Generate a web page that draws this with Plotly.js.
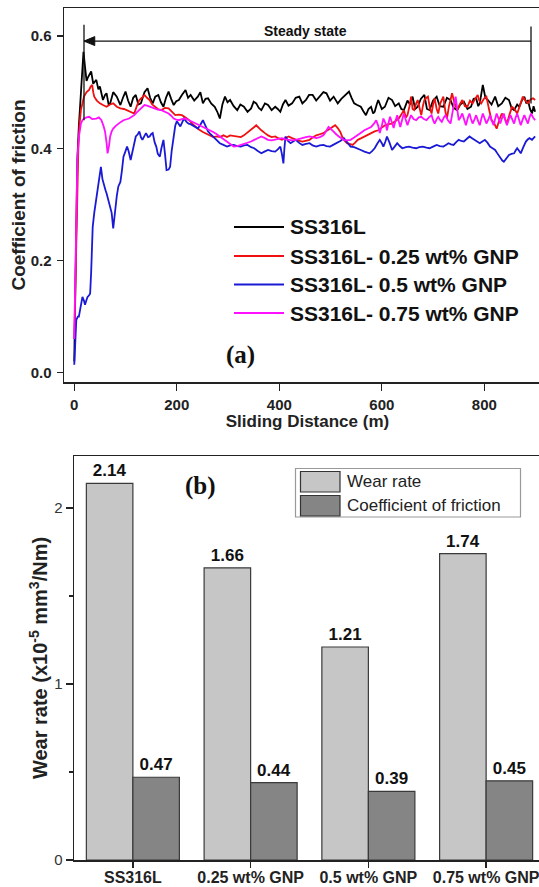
<!DOCTYPE html>
<html>
<head>
<meta charset="utf-8">
<script src="https://cdn.plot.ly/plotly-3.0.1.min.js"></script>
<style>
html,body{margin:0;padding:0;background:#fff;overflow:hidden;width:539px;height:887px;}
#chart{width:560px;height:887px;}
</style>
</head>
<body>
<div id="chart"></div>
<script>
// ---------- Panel (a): coefficient of friction vs sliding distance ----------
const seriesNames = ["SS316L", "SS316L- 0.25 wt% GNP", "SS316L- 0.5 wt% GNP", "SS316L- 0.75 wt% GNP"];

const distBlack = [0,2,4,6,9,12,15,18,21,24,26,29,33,37,43,47,50,56,60,63,67,70,76,83,90,95,100,105,110,115,120,125,130,137,143,148,153,158,164,169,174,179,184,189,194,199,204,210,217,222,227,234,241,246,251,256,261,267,274,279,284,289,294,299,304,311,318,324,331,338,345,350,355,360,365,372,378,385,392,397,402,407,412,418,425,432,439,445,452,458,465,472,479,486,492,499,506,514,521,529,536,541,546,552,559,564,569,574,579,583,586,590,593,600,606,613,620,626,633,638,643,650,655,660,665,670,676,683,688,693,700,707,713,720,727,734,740,747,753,760,767,774,779,784,788,791,797,802,807,814,821,827,834,841,848,853,858,864,868,873,878,882,885,889,893,896,899];
const cofBlack = [0.02,0.12,0.28,0.38,0.44,0.48,0.53,0.572,0.545,0.52,0.525,0.53,0.537,0.515,0.522,0.505,0.51,0.486,0.495,0.498,0.478,0.48,0.5,0.492,0.477,0.49,0.501,0.485,0.474,0.49,0.495,0.478,0.48,0.5,0.507,0.49,0.48,0.492,0.495,0.482,0.474,0.49,0.501,0.488,0.477,0.484,0.486,0.495,0.504,0.49,0.495,0.485,0.492,0.5,0.48,0.488,0.489,0.48,0.474,0.465,0.453,0.478,0.492,0.482,0.486,0.475,0.468,0.478,0.474,0.465,0.471,0.483,0.48,0.472,0.468,0.48,0.477,0.468,0.474,0.47,0.465,0.478,0.486,0.476,0.48,0.49,0.492,0.48,0.486,0.495,0.495,0.485,0.492,0.5,0.498,0.485,0.492,0.48,0.488,0.495,0.501,0.49,0.48,0.477,0.474,0.466,0.459,0.47,0.474,0.462,0.465,0.478,0.486,0.47,0.474,0.49,0.486,0.475,0.48,0.47,0.468,0.485,0.478,0.492,0.47,0.474,0.488,0.495,0.47,0.468,0.485,0.492,0.475,0.474,0.49,0.486,0.472,0.468,0.478,0.483,0.47,0.474,0.488,0.489,0.475,0.48,0.513,0.49,0.486,0.478,0.492,0.475,0.48,0.49,0.486,0.472,0.468,0.478,0.474,0.485,0.492,0.48,0.486,0.47,0.462,0.475,0.465];

const distRed = [0,2,4,6,8,10,13,16,19,24,29,32,35,37,39,44,50,56,63,70,76,83,90,97,103,110,117,122,127,132,137,142,147,152,157,163,170,177,184,190,197,204,210,217,224,231,237,244,251,257,264,271,278,284,291,298,304,311,318,325,331,338,345,350,355,360,365,372,378,385,392,398,405,412,418,425,432,439,445,452,459,465,472,479,486,492,499,504,509,514,519,523,526,532,537,543,548,553,560,566,573,579,586,593,600,606,613,620,626,633,638,643,647,650,654,657,660,663,667,670,674,677,680,683,687,690,694,697,700,703,707,710,714,717,720,724,727,731,734,737,742,747,752,757,762,767,772,777,782,787,790,794,799,804,809,814,819,824,829,834,839,844,849,854,859,864,869,875,880,885,890,895,899];
const cofRed = [0.06,0.15,0.25,0.33,0.4,0.44,0.468,0.48,0.492,0.5,0.504,0.51,0.513,0.5,0.492,0.485,0.48,0.477,0.474,0.478,0.48,0.474,0.471,0.47,0.468,0.465,0.462,0.475,0.486,0.49,0.495,0.49,0.486,0.478,0.474,0.47,0.468,0.472,0.471,0.465,0.459,0.46,0.459,0.455,0.45,0.443,0.438,0.433,0.429,0.426,0.423,0.42,0.421,0.42,0.423,0.42,0.423,0.422,0.421,0.42,0.423,0.428,0.432,0.437,0.441,0.436,0.432,0.427,0.423,0.42,0.421,0.418,0.415,0.418,0.421,0.418,0.415,0.413,0.412,0.414,0.415,0.419,0.423,0.425,0.427,0.431,0.435,0.438,0.441,0.436,0.429,0.42,0.415,0.409,0.407,0.406,0.41,0.415,0.418,0.421,0.424,0.427,0.43,0.432,0.437,0.441,0.443,0.444,0.448,0.453,0.46,0.468,0.455,0.459,0.475,0.492,0.47,0.468,0.48,0.486,0.47,0.459,0.475,0.486,0.49,0.492,0.47,0.462,0.478,0.489,0.47,0.462,0.48,0.488,0.492,0.465,0.453,0.475,0.49,0.498,0.48,0.468,0.478,0.486,0.475,0.474,0.485,0.48,0.488,0.495,0.485,0.48,0.488,0.492,0.47,0.45,0.445,0.435,0.45,0.462,0.455,0.444,0.46,0.474,0.47,0.462,0.475,0.492,0.485,0.48,0.487,0.489,0.486];

const distBlue = [0,2,4,7,9,12,16,19,21,24,26,29,31,33,35,36,39,43,47,50,52,55,58,61,63,66,70,73,76,78,80,83,86,90,93,96,100,103,106,110,115,120,124,127,130,133,137,140,144,147,150,153,157,160,163,167,170,174,177,180,184,187,190,194,197,200,204,207,211,214,219,223,227,231,236,241,246,251,256,261,266,271,278,284,291,298,304,311,318,325,331,338,345,351,358,365,371,378,385,392,397,402,405,408,410,412,417,422,427,432,438,445,452,459,465,472,479,486,492,499,505,512,519,526,532,539,546,553,559,566,571,576,581,586,591,596,600,603,607,610,615,620,625,630,635,640,647,653,660,667,673,680,687,693,700,707,713,720,725,730,735,740,745,750,755,760,766,771,776,781,786,791,796,801,806,811,816,821,826,831,835,838,843,848,853,858,861,864,868,871,876,881,885,888,893,896,899];
const cofBlue = [0.014,0.05,0.094,0.1,0.1,0.115,0.135,0.128,0.121,0.13,0.135,0.138,0.141,0.18,0.22,0.26,0.285,0.308,0.33,0.35,0.367,0.345,0.332,0.325,0.32,0.31,0.296,0.285,0.257,0.275,0.293,0.315,0.332,0.34,0.36,0.385,0.395,0.403,0.395,0.379,0.4,0.421,0.425,0.43,0.42,0.415,0.422,0.427,0.42,0.421,0.425,0.427,0.41,0.403,0.39,0.385,0.4,0.415,0.39,0.361,0.362,0.367,0.395,0.427,0.44,0.448,0.442,0.439,0.447,0.453,0.447,0.444,0.443,0.441,0.438,0.435,0.442,0.45,0.44,0.43,0.425,0.421,0.415,0.409,0.406,0.403,0.405,0.406,0.404,0.403,0.405,0.406,0.402,0.4,0.395,0.391,0.394,0.397,0.395,0.394,0.398,0.403,0.39,0.373,0.4,0.421,0.413,0.409,0.412,0.415,0.41,0.406,0.408,0.409,0.405,0.403,0.405,0.406,0.404,0.403,0.406,0.409,0.413,0.418,0.41,0.403,0.402,0.4,0.397,0.394,0.392,0.391,0.395,0.4,0.408,0.415,0.409,0.403,0.412,0.421,0.41,0.397,0.403,0.409,0.404,0.4,0.402,0.403,0.401,0.4,0.402,0.403,0.401,0.4,0.403,0.406,0.404,0.403,0.406,0.409,0.407,0.406,0.411,0.415,0.413,0.412,0.417,0.421,0.418,0.415,0.412,0.409,0.412,0.415,0.41,0.403,0.4,0.397,0.39,0.382,0.378,0.376,0.382,0.388,0.39,0.391,0.396,0.4,0.395,0.391,0.402,0.412,0.416,0.418,0.415,0.419,0.421];

const distMagenta = [0,2,4,6,9,13,16,19,24,29,35,43,48,53,57,60,63,65,68,70,73,76,81,86,91,96,102,107,112,117,122,127,132,137,142,147,152,157,163,170,177,184,189,194,199,204,210,217,224,231,237,244,251,257,264,271,278,284,291,298,304,311,318,325,331,338,345,351,358,365,372,378,385,392,398,405,412,418,425,432,439,445,452,459,465,472,479,486,491,496,501,506,511,516,521,526,532,539,546,553,560,566,573,579,584,589,593,596,600,603,607,610,613,616,620,623,627,630,633,636,640,643,647,650,654,657,662,667,672,677,682,687,692,697,700,703,707,710,714,717,721,724,729,734,739,744,747,750,754,757,761,764,768,771,774,777,781,784,788,791,794,797,801,804,808,811,815,818,821,824,828,831,835,838,841,844,848,851,855,858,861,864,868,871,875,878,882,885,888,891,895,899];
const cofMagenta = [0.06,0.2,0.32,0.38,0.42,0.444,0.45,0.453,0.455,0.456,0.452,0.453,0.455,0.45,0.44,0.43,0.41,0.391,0.405,0.421,0.43,0.435,0.44,0.444,0.447,0.45,0.451,0.453,0.456,0.459,0.464,0.468,0.472,0.477,0.476,0.474,0.472,0.471,0.469,0.468,0.465,0.462,0.458,0.453,0.451,0.45,0.452,0.453,0.45,0.447,0.444,0.441,0.438,0.435,0.432,0.429,0.425,0.421,0.416,0.412,0.407,0.403,0.404,0.406,0.408,0.409,0.412,0.415,0.418,0.421,0.418,0.415,0.414,0.415,0.417,0.418,0.416,0.415,0.414,0.415,0.417,0.418,0.42,0.421,0.42,0.418,0.42,0.423,0.43,0.438,0.434,0.429,0.425,0.421,0.418,0.415,0.414,0.415,0.419,0.423,0.428,0.432,0.435,0.438,0.443,0.45,0.44,0.427,0.44,0.453,0.445,0.432,0.445,0.456,0.445,0.436,0.45,0.459,0.448,0.438,0.452,0.462,0.45,0.441,0.452,0.459,0.452,0.45,0.455,0.456,0.452,0.45,0.455,0.459,0.45,0.444,0.452,0.456,0.45,0.447,0.455,0.459,0.45,0.444,0.47,0.492,0.47,0.45,0.456,0.462,0.45,0.441,0.455,0.462,0.452,0.444,0.452,0.459,0.448,0.441,0.452,0.462,0.452,0.444,0.452,0.459,0.448,0.441,0.452,0.462,0.452,0.444,0.455,0.462,0.45,0.441,0.452,0.459,0.45,0.444,0.455,0.462,0.45,0.441,0.452,0.459,0.45,0.444,0.455,0.462,0.455,0.45];

const lineColors = ["#000000", "#f01010", "#1a1ad6", "#ff10ff"];
const xTicksA = [0, 200, 400, 600, 800];
const yTicksA = [0, 0.2, 0.4, 0.6];
const yTickTextA = ["0.0", "0.2", "0.4", "0.6"];

// ---------- Panel (b): wear rate and coefficient of friction ----------
const categories = ["SS316L", "0.25 wt% GNP", "0.5 wt% GNP", "0.75 wt% GNP"];
const wearRate = [2.14, 1.66, 1.21, 1.74];
const frictionCoef = [0.47, 0.44, 0.39, 0.45];
const barNames = ["Wear rate", "Coefficient of friction"];
const barColors = ["#c6c6c6", "#858585"];
const yTicksB = [0, 1, 2];

// ---------- layout helpers ----------
const W = 560, H = 887;
const PX = x => x / W;
const PY = y => 1 - y / H;
const SANS = "Liberation Sans, Arial, sans-serif";
const SERIF = "Liberation Serif, Times New Roman, serif";

const traces = [];
const dists = [distBlack, distRed, distBlue, distMagenta];
const cofs = [cofBlack, cofRed, cofBlue, cofMagenta];
for (let i = 0; i < 4; i++) {
  traces.push({
    type: "scatter", mode: "lines", name: seriesNames[i],
    x: dists[i], y: cofs[i], xaxis: "x", yaxis: "y",
    line: {color: lineColors[i], width: 1.8}, showlegend: false, hoverinfo: "skip"
  });
}
const barVals = [wearRate, frictionCoef];
for (let j = 0; j < 2; j++) {
  traces.push({
    type: "bar", name: barNames[j], x: categories, y: barVals[j],
    xaxis: "x2", yaxis: "y2",
    marker: {color: barColors[j], line: {color: "#3a3a3a", width: 1.2}},
    text: barVals[j].map(v => v.toFixed(2)), textposition: "outside",
    textfont: {family: SANS, size: 17, weight: 700, color: "#111"},
    constraintext: "none", cliponaxis: false, showlegend: false, hoverinfo: "skip"
  });
}

const shapes = [];
const annotations = [];

// steady-state markers (panel a)
shapes.push({type: "line", xref: "x", yref: "y", x0: 19, x1: 19, y0: 0.45, y1: 0.62, line: {color: "#111", width: 1.3}});
shapes.push({type: "line", xref: "x", yref: "y", x0: 891, x1: 891, y0: 0.48, y1: 0.617, line: {color: "#111", width: 1.3}});
shapes.push({type: "line", xref: "x", yref: "y", x0: 19, x1: 891, y0: 0.591, y1: 0.591, line: {color: "#111", width: 1.3}});
shapes.push({type: "path", xref: "x", yref: "y", path: "M19,0.591 L40,0.599 L40,0.583 Z",
  fillcolor: "#111", line: {color: "#111", width: 1}});
annotations.push({xref: "paper", yref: "paper", x: PX(306), y: PY(31.5), text: "Steady state", showarrow: false,
  xanchor: "center", yanchor: "middle", font: {family: SANS, size: 14, weight: 700, color: "#111"}});

// legend of panel (a)
const legRowsA = [227, 256, 284.5, 313];
for (let i = 0; i < 4; i++) {
  shapes.push({type: "line", xref: "paper", yref: "paper", x0: PX(234), x1: PX(284), y0: PY(legRowsA[i]), y1: PY(legRowsA[i]),
    line: {color: lineColors[i], width: 2}});
  annotations.push({xref: "paper", yref: "paper", x: PX(288), y: PY(legRowsA[i]), text: seriesNames[i], showarrow: false,
    xanchor: "left", yanchor: "middle", font: {family: SANS, size: 21, weight: 700, color: "#111"}});
}
annotations.push({xref: "paper", yref: "paper", x: PX(240), y: PY(355), text: "(a)", showarrow: false,
  xanchor: "center", yanchor: "middle", font: {family: SERIF, size: 25, weight: 700, color: "#111"}});

// legend of panel (b)
shapes.push({type: "rect", xref: "paper", yref: "paper", x0: PX(295.5), x1: PX(520.5), y0: PY(517), y1: PY(468.5),
  line: {color: "#999", width: 1.2}, fillcolor: "rgba(255,255,255,0)"});
const legRowsB = [[471.5, 492], [495.5, 516]];
for (let j = 0; j < 2; j++) {
  shapes.push({type: "rect", xref: "paper", yref: "paper", x0: PX(300.5), x1: PX(340), y0: PY(legRowsB[j][1]), y1: PY(legRowsB[j][0]),
    line: {color: "#333", width: 1.2}, fillcolor: barColors[j]});
  annotations.push({xref: "paper", yref: "paper", x: PX(345), y: PY((legRowsB[j][0] + legRowsB[j][1]) / 2), text: barNames[j],
    showarrow: false, xanchor: "left", yanchor: "middle", font: {family: SANS, size: 17, color: "#222"}});
}
annotations.push({xref: "paper", yref: "paper", x: PX(200), y: PY(486), text: "(b)", showarrow: false,
  xanchor: "center", yanchor: "middle", font: {family: SERIF, size: 25, weight: 700, color: "#111"}});

const axisLine = {showline: true, linecolor: "#222", linewidth: 1.5, mirror: true, showgrid: false, zeroline: false};

const layout = {
  width: W, height: H,
  margin: {l: 0, r: 0, t: 0, b: 0},
  paper_bgcolor: "#ffffff", plot_bgcolor: "#ffffff",
  showlegend: false,
  barmode: "group", bargap: 0.21, bargroupgap: 0,
  font: {family: SANS, color: "#222"},
  xaxis: Object.assign({}, axisLine, {
    domain: [PX(64), PX(551)], range: [-20, 930], anchor: "y",
    tickmode: "array", tickvals: xTicksA, ticks: "outside", ticklen: 7, tickwidth: 1.3, tickcolor: "#222",
    ticklabelstandoff: 1,
    tickfont: {family: SANS, size: 15, weight: 700, color: "#222"},
    title: {text: "Sliding Distance (m)", standoff: 1, font: {family: SANS, size: 17, weight: 700, color: "#222"}}
  }),
  yaxis: Object.assign({}, axisLine, {
    domain: [PY(382), PY(8)], range: [-0.0166, 0.65], anchor: "x",
    tickmode: "array", tickvals: yTicksA, ticktext: yTickTextA, ticks: "outside", ticklen: 6, tickwidth: 1.3, tickcolor: "#222",
    ticklabelstandoff: 2,
    tickfont: {family: SANS, size: 15, weight: 700, color: "#222"},
    title: {text: "Coefficient of friction", standoff: 0, font: {family: SANS, size: 19, weight: 700, color: "#222"}}
  }),
  xaxis2: Object.assign({}, axisLine, {
    domain: [PX(74), PX(545)], range: [-0.5, 3.5], anchor: "y2", type: "category",
    ticks: "outside", ticklen: 6, tickwidth: 1.3, tickcolor: "#222",
    ticklabelstandoff: -4,
    tickfont: {family: SANS, size: 16, weight: 700, color: "#222"}
  }),
  yaxis2: Object.assign({}, axisLine, {
    domain: [PY(860), PY(456)], range: [0, 2.295], anchor: "x2",
    tickmode: "array", tickvals: yTicksB, ticks: "outside", ticklen: 7, tickwidth: 1.3, tickcolor: "#222",
    minor: {tickvals: [0.5, 1.5], ticks: "outside", ticklen: 4, tickcolor: "#222"},
    tickfont: {family: SANS, size: 15, color: "#333"},
    title: {text: "Wear rate (x10<sup>-5</sup> mm<sup>3</sup>/Nm)", standoff: 1, font: {family: SANS, size: 20, weight: 700, color: "#222"}}
  }),
  shapes: shapes,
  annotations: annotations
};

Plotly.newPlot("chart", traces, layout, {staticPlot: true, displayModeBar: false});
</script>
</body>
</html>
